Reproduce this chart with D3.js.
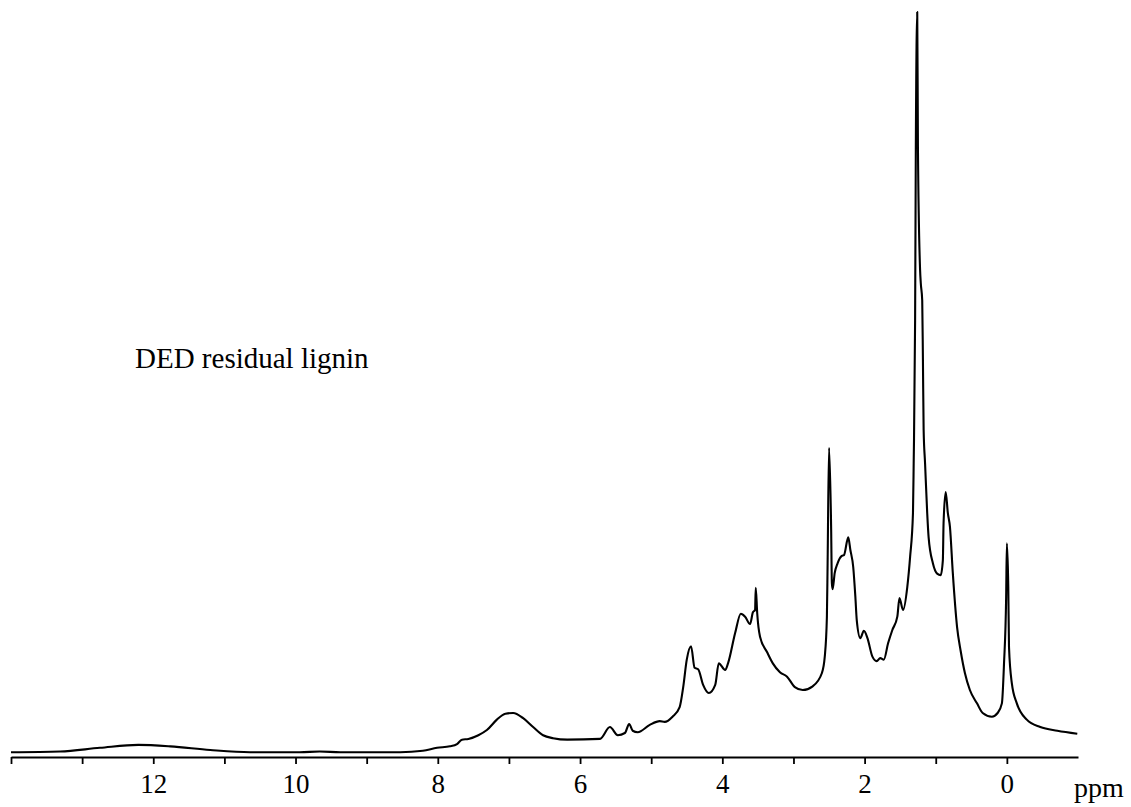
<!DOCTYPE html>
<html>
<head>
<meta charset="utf-8">
<script src="https://cdn.jsdelivr.net/npm/d3@7"></script>
<style>
  body { margin: 0; background: #fff; }
  svg { display: block; }
  text { font-family: "Liberation Serif", "Times New Roman", serif; fill: #000; }
</style>
</head>
<body>
<div id="chart"></div>
<script>
const width = 1131;
const height = 807;

// chemical shift (ppm) and relative intensity
const shift = [
  14.00, 13.31, 12.75, 12.21, 11.76, 11.20, 10.64, 9.94, 9.66, 9.37,
  8.53, 8.21, 8.01, 7.83, 7.73, 7.66, 7.57, 7.43, 7.31, 7.17,
  7.05, 6.94, 6.80, 6.66, 6.52, 6.38, 6.18, 5.72, 5.58, 5.47,
  5.37, 5.31, 5.26, 5.19, 5.02, 4.88, 4.81, 4.70, 4.60, 4.55,
  4.50, 4.44, 4.39, 4.34, 4.27, 4.19, 4.10, 4.05, 3.96, 3.92,
  3.82, 3.74, 3.68, 3.61, 3.57, 3.54, 3.53, 3.51, 3.47, 3.37,
  3.29, 3.19, 3.09, 2.98, 2.87, 2.73, 2.60, 2.56, 2.53, 2.52,
  2.50, 2.47, 2.46, 2.45, 2.42, 2.38, 2.32, 2.29, 2.23, 2.20,
  2.16, 2.13, 2.11, 2.06, 2.01, 1.96, 1.89, 1.83, 1.78, 1.73,
  1.67, 1.61, 1.54, 1.51, 1.46, 1.40, 1.36, 1.32, 1.31, 1.29,
  1.28, 1.26, 1.25, 1.22, 1.21, 1.19, 1.18, 1.17, 1.15, 1.12,
  1.10, 1.04, 0.98, 0.93, 0.90, 0.89, 0.86, 0.83, 0.80, 0.76,
  0.70, 0.65, 0.59, 0.52, 0.42, 0.34, 0.21, 0.13, 0.07, 0.04,
  0.01, 0.00, -0.02, -0.03, -0.07, -0.14, -0.28, -0.47, -0.71, -0.99
];
const intensity = [
  0.1, 0.2, 0.7, 1.1, 0.9, 0.4, 0.1, 0.1, 0.2, 0.1,
  0.1, 0.3, 0.7, 0.9, 1.2, 1.8, 1.9, 2.4, 3.1, 4.5,
  5.3, 5.4, 4.7, 3.5, 2.4, 2.0, 1.8, 1.9, 3.5, 2.4,
  2.7, 3.9, 3.0, 2.8, 3.8, 4.3, 4.2, 4.9, 6.2, 8.9,
  12.6, 14.4, 11.5, 11.3, 9.2, 8.1, 9.2, 12.1, 11.2, 12.1,
  16.2, 18.8, 18.4, 17.4, 19.0, 19.3, 22.3, 18.9, 15.7, 13.6,
  12.1, 10.9, 10.3, 8.9, 8.5, 9.0, 10.8, 13.0, 18.4, 25.6,
  41.2, 30.1, 22.9, 22.1, 24.3, 25.6, 26.6, 26.7, 29.1, 27.4,
  25.1, 21.1, 17.9, 15.5, 16.5, 15.5, 13.0, 12.4, 12.8, 12.6,
  14.8, 16.6, 18.4, 20.9, 19.3, 22.4, 26.5, 32.4, 39.1, 58.4,
  81.4, 100, 81.4, 65.2, 63.4, 61.1, 53.0, 43.6, 39.1, 32.4,
  29.1, 25.6, 24.2, 24.0, 26.0, 31.0, 35.2, 32.4, 30.5, 24.3,
  17.0, 13.8, 10.8, 8.5, 6.7, 5.4, 4.9, 5.4, 6.7, 12.1,
  21.1, 28.3, 22.4, 14.3, 9.4, 6.7, 4.5, 3.5, 3.0, 2.6
];
const tickValues = [14, 13, 12, 11, 10, 9, 8, 7, 6, 5, 4, 3, 2, 1, 0];
const tickLabels = [12, 10, 8, 6, 4, 2, 0];
const axisTitle = 'ppm';
const sampleName = 'DED residual lignin';

const data = shift.map((s, i) => ({ppm: s, v: intensity[i]}));

const x = d3.scaleLinear().domain([14, -1]).range([11, 1078]);
const y = d3.scaleLinear().domain([0, 100]).range([753, 12]);
const axisY = 757;

const svg = d3.select('#chart').append('svg')
  .attr('width', width)
  .attr('height', height);

// spectrum trace
svg.append('path')
  .datum(data)
  .attr('fill', 'none')
  .attr('stroke', '#000')
  .attr('stroke-width', 2.1)
  .attr('stroke-linejoin', 'round')
  .attr('d', d3.line()
    .x(d => x(d.ppm))
    .y(d => y(d.v))
    .curve(d3.curveMonotoneX));

// ppm axis, ticks point down, labels only on even values
const xAxis = g => g
  .attr('transform', `translate(0, ${axisY})`)
  .call(d3.axisBottom(x)
    .tickValues(tickValues)
    .tickSize(7)
    .tickSizeOuter(0)
    .tickFormat(d => tickLabels.includes(d) ? d : ''))
  .call(g => g.select('.domain').attr('stroke-width', 2.2))
  .call(g => g.selectAll('.tick line').attr('stroke-width', 1.8))
  .call(g => g.selectAll('.tick text')
    .attr('y', 36)
    .attr('dy', 0)
    .style('font-size', '27px')
    .style('font-family', '"Liberation Serif", serif'));

svg.append('g').call(xAxis);

svg.append('text')
  .attr('x', 1074)
  .attr('y', 797)
  .style('font-size', '28px')
  .text(axisTitle);

svg.append('text')
  .attr('x', 135)
  .attr('y', 368)
  .style('font-size', '29px')
  .text(sampleName);
</script>
</body>
</html>
